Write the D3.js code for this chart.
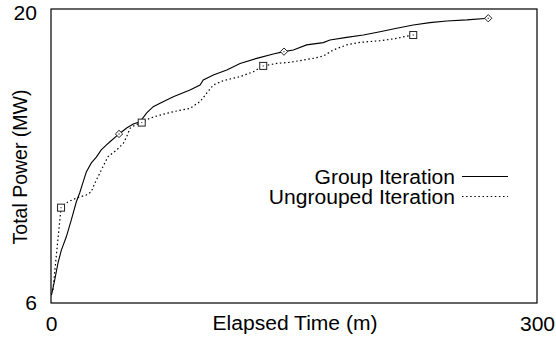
<!DOCTYPE html>
<html>

<head>
    <meta charset='utf-8'>
    <title>Total Power vs Elapsed Time</title>
    <script type="text/javascript" src="https://cdn.jsdelivr.net/npm/d3@7"></script>
    <style>
        body { margin: 0; background: #fff; }
        text { font-family: "Liberation Sans", Arial, sans-serif; fill: #000; }
    </style>
</head>

<body>
    <script>
        // elapsed time (m), total power (MW)
        const groupTime = [0.3, 2.3, 4.3, 6.4, 9.4, 12.5, 15.6, 17.7, 19.8, 21.8, 24.9, 28.0, 31.0, 34.1, 36.4,
            42.0, 46.7, 50.8, 54.9, 59.1, 63.1, 67.3, 75.5, 85.8, 92.0, 94.0, 100.2, 108.5, 116.7, 127.0,
            137.2, 143.8, 149.6, 157.8, 168.1, 172.2, 182.5, 192.8, 203.1, 213.4, 223.6, 233.9, 244.3,
            256.6, 269.9];
        const groupPower = [6.38, 7.10, 7.90, 8.52, 9.14, 9.95, 10.81, 11.24, 11.76, 12.24, 12.67, 12.95, 13.29,
            13.52, 13.68, 14.05, 14.33, 14.52, 14.63, 15.05, 15.35, 15.51, 15.82, 16.14, 16.38, 16.62, 16.86,
            17.10, 17.41, 17.65, 17.86, 17.97, 18.05, 18.29, 18.40, 18.52, 18.65, 18.76, 18.92, 19.08, 19.24,
            19.35, 19.43, 19.48, 19.56];

        const ungroupedTime = [1.2, 6.2, 10.5, 16.7, 21.8, 24.9, 27.0, 30.1, 33.1, 35.2, 40.6, 44.6, 46.7, 48.8,
            51.9, 56.0, 61.1, 67.3, 75.5, 85.8, 92.0, 96.1, 100.2, 106.4, 116.7, 124.9, 131.0, 139.3, 147.5,
            161.9, 168.1, 174.3, 182.5, 190.7, 203.1, 213.4, 219.6, 223.6];
        const ungroupedPower = [6.62, 10.54, 10.82, 11.03, 11.14, 11.30, 11.70, 12.18, 12.65, 12.97, 13.29, 13.60,
            13.92, 14.32, 14.48, 14.59, 14.80, 14.95, 15.11, 15.27, 15.59, 15.99, 16.38, 16.59, 16.78, 17.01,
            17.29, 17.41, 17.46, 17.65, 17.76, 18.05, 18.29, 18.41, 18.49, 18.60, 18.71, 18.76];

        // marked samples
        const groupMarkTime = [42.0, 143.8, 269.9];
        const groupMarkPower = [14.05, 17.97, 19.56];
        const ungroupedMarkTime = [6.2, 56.0, 131.0, 223.6];
        const ungroupedMarkPower = [10.54, 14.59, 17.29, 18.76];

        const xTicks = [0, 300];
        const yTicks = [6, 20];
        const seriesNames = ["Group Iteration", "Ungrouped Iteration"];

        const w = 556;
        const h = 339;
        const plotL = 51, plotR = 537, plotT = 9, plotB = 303;
        const stretch = 1.08;

        const xScale = d3.scaleLinear().domain([0, 300]).range([plotL, plotR]);
        const yScale = d3.scaleLinear().domain([6, 20]).range([plotB, plotT]);

        const svg = d3.select("body")
            .append("svg")
            .attr("width", w)
            .attr("height", h);

        const zip = (xs, ys) => xs.map((x, i) => [x, ys[i]]);
        const line = d3.line()
            .x(d => xScale(d[0]))
            .y(d => yScale(d[1]));

        // series
        svg.append("path")
            .datum(zip(ungroupedTime, ungroupedPower))
            .attr("fill", "none")
            .attr("stroke", "#000")
            .attr("stroke-width", 1.2)
            .attr("stroke-dasharray", "1.5,2.6")
            .attr("d", line);

        svg.append("path")
            .datum(zip(groupTime, groupPower))
            .attr("fill", "none")
            .attr("stroke", "#000")
            .attr("stroke-width", 1.1)
            .attr("d", line);

        const diamond = d3.symbol().type(d3.symbolDiamond2).size(34);
        svg.selectAll(".gmark")
            .data(zip(groupMarkTime, groupMarkPower))
            .enter()
            .append("path")
            .attr("class", "gmark")
            .attr("transform", d => "translate(" + xScale(d[0]) + "," + yScale(d[1]) + ")")
            .attr("d", diamond)
            .attr("fill", "#fff")
            .attr("stroke", "#222")
            .attr("stroke-width", 1);

        svg.selectAll(".umark")
            .data(zip(ungroupedMarkTime, ungroupedMarkPower))
            .enter()
            .append("rect")
            .attr("class", "umark")
            .attr("x", d => xScale(d[0]) - 3.5)
            .attr("y", d => yScale(d[1]) - 3.5)
            .attr("width", 7)
            .attr("height", 7)
            .attr("fill", "#fff")
            .attr("stroke", "#222")
            .attr("stroke-width", 1);

        svg.selectAll(".dot")
            .data(zip(groupMarkTime, groupMarkPower).concat(zip(ungroupedMarkTime, ungroupedMarkPower)))
            .enter()
            .append("circle")
            .attr("class", "dot")
            .attr("cx", d => xScale(d[0]))
            .attr("cy", d => yScale(d[1]))
            .attr("r", 0.7)
            .attr("fill", "#444");

        // frame
        svg.append("rect")
            .attr("x", plotL)
            .attr("y", plotT)
            .attr("width", plotR - plotL)
            .attr("height", plotB - plotT)
            .attr("fill", "none")
            .attr("stroke", "#000")
            .attr("stroke-width", 1.2);

        // axes (labels only)
        const xAxis = d3.axisBottom(xScale).tickValues(xTicks).tickSize(0).tickPadding(14);
        const yAxis = d3.axisLeft(yScale).tickValues(yTicks).tickSize(0).tickPadding(14);

        const gx = svg.append("g")
            .attr("transform", "translate(0," + plotB + ")")
            .call(xAxis);
        const gy = svg.append("g")
            .attr("transform", "translate(" + plotL + ",0)")
            .call(yAxis);
        [gx, gy].forEach(g => {
            g.select(".domain").remove();
            g.selectAll("text")
                .style("font-family", "'Liberation Sans', Arial, sans-serif")
                .attr("font-size", 19.5)
                .attr("fill", "#000");
        });
        // top label sits a little below the frame corner, as in the original
        gy.selectAll(".tick text").filter(d => d === yTicks[yTicks.length - 1]).attr("y", 4);

        const xTitle = svg.append("text")
            .attr("x", (plotL + plotR) / 2 + 1)
            .attr("y", 330)
            .attr("text-anchor", "middle")
            .attr("font-size", 19.5)
            .text("Elapsed Time (m)");

        svg.append("text")
            .attr("transform", "translate(27,167) rotate(-90)")
            .attr("text-anchor", "middle")
            .attr("font-size", 19.5)
            .text("Total Power (MW)");

        // legend
        const legend = svg.append("g");
        seriesNames.forEach((name, i) => {
            const y = 184 + i * 20;
            legend.append("text")
                .attr("x", 455)
                .attr("y", y)
                .attr("text-anchor", "end")
                .attr("font-size", 19.5)
                .text(name);
            legend.append("line")
                .attr("x1", 462)
                .attr("x2", 508)
                .attr("y1", y - 7.5)
                .attr("y2", y - 7.5)
                .attr("stroke", "#000")
                .attr("stroke-width", 1)
                .attr("stroke-dasharray", i === 0 ? null : "1.5,2.6");
        });

        // horizontal text in the original runs a bit wider than the font
        const widen = function () {
            const len = this.getComputedTextLength();
            d3.select(this).attr("textLength", len * stretch).attr("lengthAdjust", "spacingAndGlyphs");
        };
        gx.selectAll("text").each(widen);
        gy.selectAll("text").each(widen);
        xTitle.each(widen);
        legend.selectAll("text").each(widen);
    </script>
</body>

</html>
